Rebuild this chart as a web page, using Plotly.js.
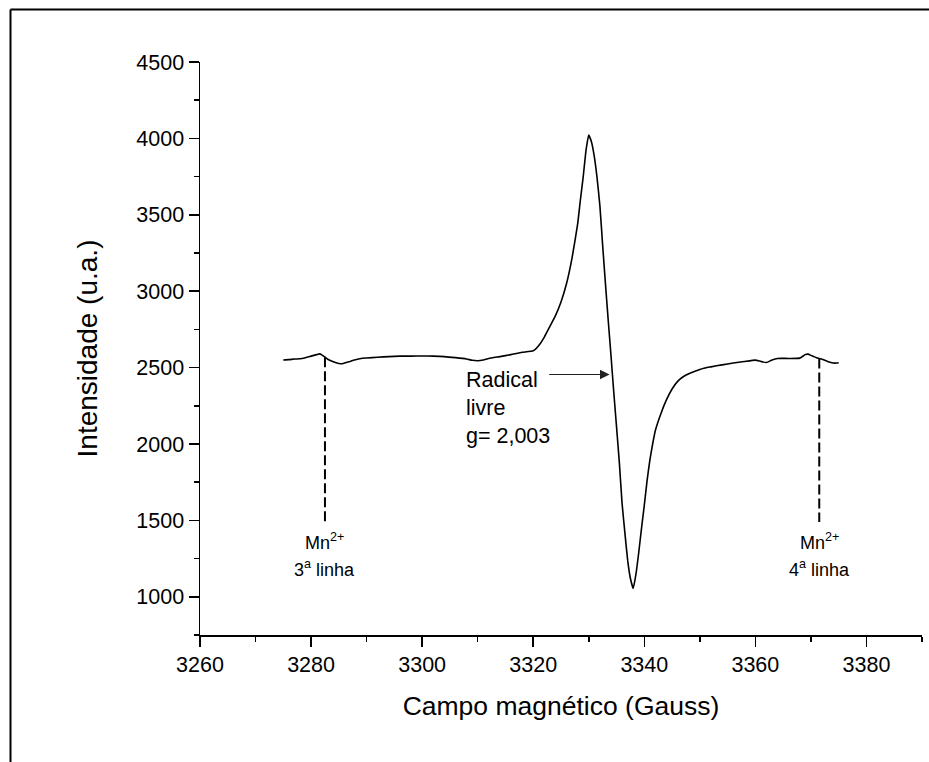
<!DOCTYPE html>
<html>
<head>
<meta charset="utf-8">
<script src="https://cdn.plot.ly/plotly-3.0.1.min.js"></script>
<style>html,body{margin:0;padding:0;background:#fff;}#chart{width:929px;height:762px;}</style>
</head>
<body>
<div id="chart"></div>
<script>
// EPR spectrum values
const campo = [3275,3276,3277,3278,3279,3280,3281,3281.5,3282,3282.5,3283,3284,3285,3285.5,3286,3287,3288,3289,3290,3292,3294,3296,3298,3300,3302,3304,3306,3308,3309,3310,3311,3312,3314,3316,3318,3320,3321,3322,3323,3324,3325,3326,3327,3328,3328.5,3329,3329.5,3330,3330.5,3331,3331.5,3332,3332.5,3333,3333.5,3334,3334.5,3335,3335.5,3336,3336.5,3337,3337.5,3338,3338.5,3339,3339.5,3340,3340.5,3341,3341.5,3342,3343,3344,3345,3346,3347,3348,3350,3352,3354,3356,3358,3360,3361,3362,3363,3364,3366,3368,3369,3369.5,3370,3371,3372,3373,3374,3374.6,3375];
const intensidade = [2550,2552,2556,2558,2565,2575,2585,2590,2582,2568,2555,2538,2527,2525,2530,2540,2552,2560,2563,2568,2572,2575,2575,2576,2575,2572,2565,2556,2548,2545,2550,2560,2572,2585,2600,2610,2645,2700,2770,2840,2930,3050,3220,3440,3600,3750,3920,4022,3975,3880,3740,3560,3300,3050,2810,2580,2340,2112,1880,1610,1420,1240,1120,1055,1150,1290,1450,1600,1760,1895,2000,2090,2200,2290,2360,2410,2440,2460,2488,2505,2518,2530,2540,2549,2540,2533,2550,2560,2560,2562,2585,2588,2580,2565,2555,2540,2530,2530,2532];

// Mn2+ reference lines
const mnCampo = [3282.5, 3371.5];
const mnTopo = [2568, 2560];
const mnBase = [1490, 1490];
const mnRotulo = ['Mn<sup>2+</sup>', 'Mn<sup>2+</sup>'];
const mnLinha = ['3<sup>a</sup> linha', '4<sup>a</sup> linha'];

// Free radical arrow
const radicalTexto = 'Radical<br>livre<br>g= 2,003';
const radicalPonta = [3333.75, 2455];
const radicalCauda = [3322.6, 2455];

const xTicks = [3260,3280,3300,3320,3340,3360,3380];
const yTicks = [1000,1500,2000,2500,3000,3500,4000,4500];

const W = 929, H = 762;
const M = {l:200, r:7, t:62, b:127, pad:0};
const pw = W - M.l - M.r, ph = H - M.t - M.b;
const px2paperX = p => (p - M.l) / pw;
const px2paperY = p => (H - M.b - p) / ph;

const FONT = 'Arial, "Liberation Sans", sans-serif';

const traces = [{
  x: campo, y: intensidade, type: 'scatter', mode: 'lines',
  line: {color: '#000', width: 1.6, shape: 'spline', smoothing: 0.4}, hoverinfo: 'skip', showlegend: false
}];
mnCampo.forEach((c, i) => {
  traces.push({
    x: [c, c], y: [mnTopo[i], mnBase[i]], type: 'scatter', mode: 'lines',
    line: {color: '#000', width: 2, dash: '10px,4px'}, showlegend: false, hoverinfo: 'skip'
  });
});

const annotations = [];
mnCampo.forEach((c, i) => {
  annotations.push({x: c, y: 1365, xref: 'x', yref: 'y', text: mnRotulo[i], showarrow: false,
    xanchor: 'center', yanchor: 'middle', font: {family: FONT, size: 18, color: '#000'}});
  annotations.push({x: c, y: 1185, xref: 'x', yref: 'y', text: mnLinha[i], showarrow: false,
    xanchor: 'center', yanchor: 'middle', font: {family: FONT, size: 18, color: '#000'}});
});
annotations.push({x: 3307.6, y: 2235, xref: 'x', yref: 'y', text: radicalTexto, showarrow: false,
  xanchor: 'left', yanchor: 'middle', align: 'left', font: {family: FONT, size: 21.5, color: '#000'}});
annotations.push({x: radicalPonta[0], y: radicalPonta[1], xref: 'x', yref: 'y',
  ax: radicalCauda[0], ay: radicalCauda[1], axref: 'x', ayref: 'y', text: '',
  showarrow: true, arrowhead: 2, arrowsize: 1.6, arrowwidth: 1.2, arrowcolor: '#222'});

const layout = {
  width: W, height: H, margin: M,
  paper_bgcolor: '#fff', plot_bgcolor: '#fff',
  font: {family: FONT, color: '#000', size: 21.5},
  showlegend: false,
  xaxis: {
    range: [3260, 3390], tickvals: xTicks, ticktext: xTicks.map(String),
    showline: true, linecolor: '#000', linewidth: 1.5, mirror: false,
    ticks: 'outside', ticklen: 10, tickwidth: 1.5, tickcolor: '#000',
    minor: {dtick: 10, tick0: 3260, ticks: 'outside', ticklen: 5, tickwidth: 1.5, tickcolor: '#000'},
    showgrid: false, zeroline: false,
    tickfont: {family: FONT, size: 21.5, color: '#000'},
    title: {text: 'Campo magnético (Gauss)', font: {family: FONT, size: 26.5, color: '#000'}, standoff: 20}
  },
  yaxis: {
    range: [750, 4500], tickvals: yTicks, ticktext: yTicks.map(String),
    showline: true, linecolor: '#000', linewidth: 1.5, mirror: false,
    ticks: 'outside', ticklen: 10, tickwidth: 1.5, tickcolor: '#000',
    minor: {dtick: 250, tick0: 750, ticks: 'outside', ticklen: 5, tickwidth: 1.5, tickcolor: '#000'},
    showgrid: false, zeroline: false,
    tickfont: {family: FONT, size: 21.5, color: '#000'},
    title: {text: 'Intensidade (u.a.)', font: {family: FONT, size: 28, color: '#000'}, standoff: 30}
  },
  shapes: [
    {type: 'line', xref: 'paper', yref: 'paper',
     x0: px2paperX(10.5), x1: px2paperX(W), y0: px2paperY(9.5), y1: px2paperY(9.5),
     line: {color: '#000', width: 2}, layer: 'above'},
    {type: 'line', xref: 'paper', yref: 'paper',
     x0: px2paperX(10.5), x1: px2paperX(10.5), y0: px2paperY(9.5), y1: px2paperY(H),
     line: {color: '#000', width: 2}, layer: 'above'}
  ],
  annotations: annotations
};

Plotly.newPlot('chart', traces, layout, {staticPlot: true, displayModeBar: false});
</script>
</body>
</html>
